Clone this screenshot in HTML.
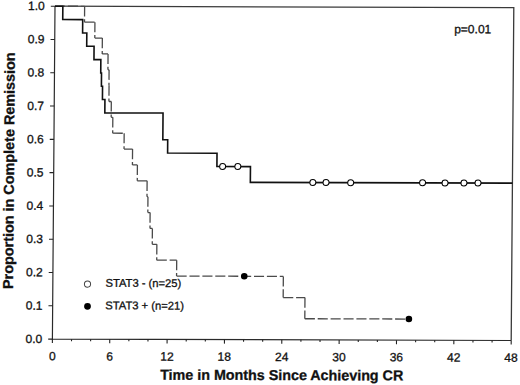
<!DOCTYPE html>
<html><head><meta charset="utf-8"><style>
html,body{margin:0;padding:0;background:#fff;}
body{width:520px;height:385px;overflow:hidden;}
svg{display:block;}
text{font-family:"Liberation Sans",sans-serif;fill:#111;stroke:#111;stroke-width:0.3px;}
</style></head><body>
<svg width="520" height="385" viewBox="0 0 520 385">
<rect width="520" height="385" fill="#fff"/>
<g transform="matrix(1,0.00305,-0.00781,1,2.648,-0.16)">
<path d="M52.4,6.2H511.2V339.1" fill="none" stroke="#3a3a3a" stroke-width="1.3"/>
<path d="M52.4,6.2V339.1H511.2" fill="none" stroke="#2a2a2a" stroke-width="1.2"/>
<path d="M48.2,339.1H52.4M48.2,305.81H52.4M48.2,272.52H52.4M48.2,239.23H52.4M48.2,205.94H52.4M48.2,172.65H52.4M48.2,139.36H52.4M48.2,106.07H52.4M48.2,72.78H52.4M48.2,39.49H52.4M48.2,6.2H52.4M52.4,339.1V343.1M71.52,339.1V341.1M90.63,339.1V341.1M109.75,339.1V343.1M128.87,339.1V341.1M147.98,339.1V341.1M167.1,339.1V343.1M186.22,339.1V341.1M205.33,339.1V341.1M224.45,339.1V343.1M243.57,339.1V341.1M262.68,339.1V341.1M281.8,339.1V343.1M300.92,339.1V341.1M320.03,339.1V341.1M339.15,339.1V343.1M358.27,339.1V341.1M377.38,339.1V341.1M396.5,339.1V343.1M415.62,339.1V341.1M434.73,339.1V341.1M453.85,339.1V343.1M472.97,339.1V341.1M492.08,339.1V341.1M511.2,339.1V343.1" fill="none" stroke="#222" stroke-width="1.1"/>
<path d="M52.4,6.2H82.03M82.03,6.2V22.05M82.03,22.05H92.45M92.45,22.05V37.9M92.45,37.9H100M100,37.9V53.76M100,53.76H105.83M105.83,53.76V69.61M105.83,69.61H106.98M106.98,69.61V85.46M106.98,85.46H107.07M107.07,85.46V101.31M107.07,101.31H109.46M109.46,101.31V117.17M109.46,117.17H111.09M111.09,117.17V133.02M111.09,133.02H122.56M122.56,133.02V148.87M122.56,148.87H131.07M131.07,148.87V164.72M131.07,164.72H136.04M136.04,164.72V180.58M136.04,180.58H145.88M145.88,180.58V196.43M145.88,196.43H146.84M146.84,196.43V212.28M146.84,212.28H149.13M149.13,212.28V228.13M149.13,228.13H151.52M151.52,228.13V243.99M151.52,243.99H156.11M156.11,243.99V259.84M156.11,259.84H176.08M176.08,259.84V275.69M176.08,275.69H282.85M282.85,275.69V296.83M282.85,296.83H304.64M304.64,296.83V317.96M304.64,317.96H408.73" fill="none" stroke="#4a4a4a" stroke-width="1.3" stroke-dasharray="10.1 2.8"/>
<path d="M52.4,6.2H60.24V19.52H80.21V32.83H84.42V46.15H91.78V59.46H98.66V72.78H99.43V86.1H100.57V99.41H103.06V112.73H161.27V139.36H166.14V152.68H215.56V165.99H249.11V181.73H511.2" fill="none" stroke="#111" stroke-width="1.6"/>
<circle cx="221.3" cy="165.99" r="3" fill="#fff" stroke="#000" stroke-width="1"/><circle cx="236.49" cy="165.99" r="3" fill="#fff" stroke="#000" stroke-width="1"/><circle cx="311.62" cy="181.73" r="3" fill="#fff" stroke="#000" stroke-width="1"/><circle cx="324.81" cy="181.73" r="3" fill="#fff" stroke="#000" stroke-width="1"/><circle cx="349.47" cy="181.73" r="3" fill="#fff" stroke="#000" stroke-width="1"/><circle cx="421.35" cy="181.73" r="3" fill="#fff" stroke="#000" stroke-width="1"/><circle cx="443.81" cy="181.73" r="3" fill="#fff" stroke="#000" stroke-width="1"/><circle cx="462.74" cy="181.73" r="3" fill="#fff" stroke="#000" stroke-width="1"/><circle cx="476.79" cy="181.73" r="3" fill="#fff" stroke="#000" stroke-width="1"/>
<circle cx="243.76" cy="275.69" r="3.3" fill="#000"/><circle cx="408.73" cy="317.96" r="3.3" fill="#000"/>
<g font-size="12"><text x="42.2" y="343" text-anchor="end">0.0</text><text x="42.2" y="309.71" text-anchor="end">0.1</text><text x="42.2" y="276.42" text-anchor="end">0.2</text><text x="42.2" y="243.13" text-anchor="end">0.3</text><text x="42.2" y="209.84" text-anchor="end">0.4</text><text x="42.2" y="176.55" text-anchor="end">0.5</text><text x="42.2" y="143.26" text-anchor="end">0.6</text><text x="42.2" y="109.97" text-anchor="end">0.7</text><text x="42.2" y="76.68" text-anchor="end">0.8</text><text x="42.2" y="43.39" text-anchor="end">0.9</text><text x="42.2" y="10.1" text-anchor="end">1.0</text></g>
<g font-size="12"><text x="52.4" y="360.3" text-anchor="middle">0</text><text x="109.75" y="360.3" text-anchor="middle">6</text><text x="167.1" y="360.3" text-anchor="middle">12</text><text x="224.45" y="360.3" text-anchor="middle">18</text><text x="281.8" y="360.3" text-anchor="middle">24</text><text x="339.15" y="360.3" text-anchor="middle">30</text><text x="396.5" y="360.3" text-anchor="middle">36</text><text x="453.85" y="360.3" text-anchor="middle">42</text><text x="511.2" y="360.3" text-anchor="middle">48</text></g>
<text x="451.8" y="32" font-size="12">p=0.01</text>
<circle cx="87.07" cy="284" r="3.1" fill="#fff" stroke="#444" stroke-width="1"/>
<circle cx="87.24" cy="306.2" r="3.4" fill="#000"/>
<g font-size="11.2"><text x="105.1" y="286.6">STAT3 - (n=25)</text><text x="105.1" y="309.1">STAT3 + (n=21)</text></g>
<text x="282" y="379.3" font-size="14.3" font-weight="bold" text-anchor="middle" stroke-width="0">Time in Months Since Achieving CR</text>
<text transform="translate(12.6,170.8) rotate(-90)" font-size="14.4" font-weight="bold" text-anchor="middle" stroke-width="0">Proportion in Complete Remission</text>
</g>
</svg>
</body></html>
